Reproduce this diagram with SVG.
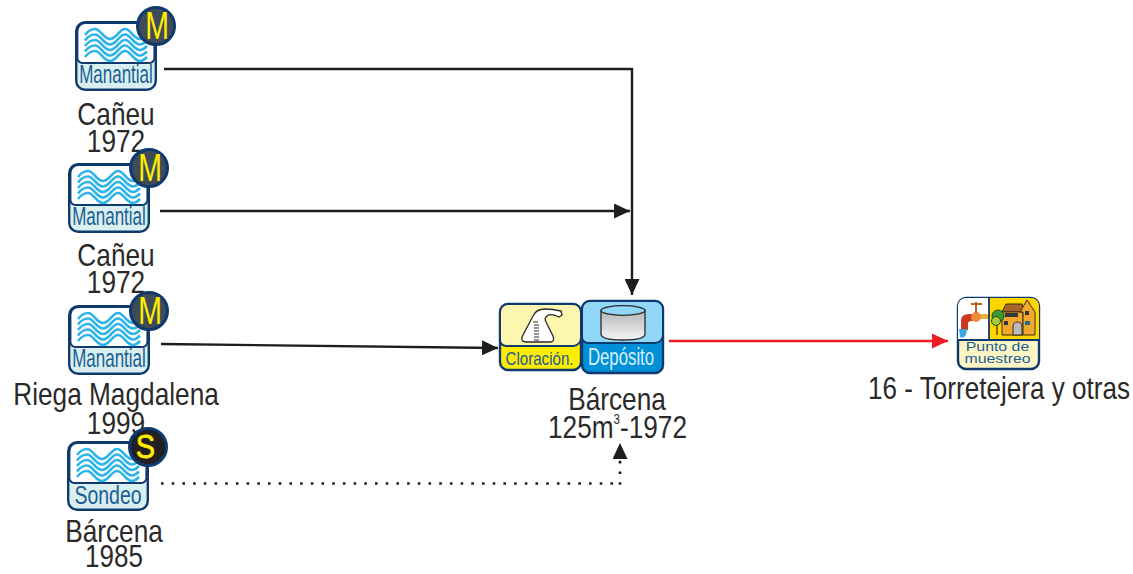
<svg xmlns="http://www.w3.org/2000/svg" width="1133" height="574" viewBox="0 0 1133 574">
<style>
.lbl{font-family:"Liberation Sans",Arial,sans-serif;font-size:32px;fill:#2b2a29;text-anchor:middle}
.tag{font-family:"Liberation Sans",Arial,sans-serif;font-size:25px;fill:#1b5e94;text-anchor:middle}
.bt{font-family:"Liberation Sans",Arial,sans-serif;font-size:38.500px;fill:#ffed00;text-anchor:middle}
.small{font-family:"Liberation Sans",Arial,sans-serif;fill:#1b5e94;text-anchor:middle}
.edge{fill:none;stroke:#1d1d1b;stroke-width:2.400}
.dot{stroke-width:2.600;stroke-dasharray:2.600 8.100}
</style>
<defs>
<marker id="ah" markerUnits="userSpaceOnUse" markerWidth="17" markerHeight="15" refX="16" refY="7.500" orient="auto"><path d="M0 0L16 7.500L0 15Z" fill="#1d1d1b"/></marker>
<marker id="ar" markerUnits="userSpaceOnUse" markerWidth="17" markerHeight="15" refX="16" refY="7.500" orient="auto"><path d="M0 0L16 7.500L0 15Z" fill="#ed1c24"/></marker>
<path id="w" d="M0 1C3-3 7-5 10-5C16-5 18 5 25 5C32 5 34-5 40-5C46-5 48 5 55 5C58 5 60 3 62 1" fill="none" stroke="#2db4ea" stroke-width="2.600"/>
<g id="src">
<rect x="1.200" y="1.200" width="79.600" height="67.600" rx="9" fill="#d9eff0" stroke="#0e3a6e" stroke-width="2.400"/>
<path d="M2.400 37V10a8 8 0 0 1 8-8h61a8 8 0 0 1 8 8V37a5 5 0 0 1-5 5H7.400a5 5 0 0 1-5-5Z" fill="#fff" stroke="#0e3a6e" stroke-width="2"/>
<use href="#w" x="10" y="13"/><use href="#w" x="10" y="18.500"/><use href="#w" x="10" y="24"/><use href="#w" x="10" y="29.500"/><use href="#w" x="10" y="35"/>
</g>
<linearGradient id="cy" x1="0" y1="0" x2="0" y2="1"><stop offset="0" stop-color="#b5b5b5"/><stop offset="1" stop-color="#f4f4f4"/></linearGradient>
</defs>
<g id="connectors">
<path class="edge" d="M164 69H632V295" marker-end="url(#ah)"/>
<path class="edge" d="M160 211H630" marker-end="url(#ah)"/>
<path class="edge" d="M161 344L498 348" marker-end="url(#ah)"/>
<path class="edge" d="M669 341H948" style="stroke:#ed1c24" marker-end="url(#ar)"/>
<path class="edge dot" d="M161 483.500H613"/>
<path class="edge dot" d="M620 484.800V443" marker-end="url(#ah)"/>
</g>
<g id="n1">
<use href="#src" x="75" y="21"/>
<text class="tag" transform="translate(116 83) scale(.68 1)">Manantial</text>
<circle cx="156" cy="26" r="18.500" fill="#3f4c57" stroke="#0e3a6e" stroke-width="3"/>
<text class="bt" transform="translate(157 39.300) scale(.74 1)">M</text>
<text class="lbl" transform="translate(116 125) scale(.82 1)">Cañeu</text>
<text class="lbl" transform="translate(116 152) scale(.82 1)">1972</text>
</g>
<g id="n2">
<use href="#src" x="68" y="163"/>
<text class="tag" transform="translate(109 225) scale(.68 1)">Manantial</text>
<circle cx="149" cy="168" r="18.500" fill="#3f4c57" stroke="#0e3a6e" stroke-width="3"/>
<text class="bt" transform="translate(150 181.300) scale(.74 1)">M</text>
<text class="lbl" transform="translate(116 266) scale(.82 1)">Cañeu</text>
<text class="lbl" transform="translate(116 293) scale(.82 1)">1972</text>
</g>
<g id="n3">
<use href="#src" x="68" y="305"/>
<text class="tag" transform="translate(109 367) scale(.68 1)">Manantial</text>
<circle cx="149" cy="311" r="18.500" fill="#3f4c57" stroke="#0e3a6e" stroke-width="3"/>
<text class="bt" transform="translate(150 324.300) scale(.74 1)">M</text>
<text class="lbl" transform="translate(116 405) scale(.82 1)">Riega Magdalena</text>
<text class="lbl" transform="translate(116 434) scale(.82 1)">1999</text>
</g>
<g id="n4">
<use href="#src" x="67" y="441"/>
<text class="tag" transform="translate(108 504) scale(.78 1)">Sondeo</text>
<circle cx="148" cy="447" r="18.500" fill="#231f20" stroke="#0e3a6e" stroke-width="3"/>
<text class="bt" transform="translate(145.500 457.700) scale(.85 1)" style="font-size:34px;stroke:#ffed00;stroke-width:.8">S</text>
<text class="lbl" transform="translate(114 542) scale(.82 1)">Bárcena</text>
<text class="lbl" style="font-size:31px" transform="translate(114 567.400) scale(.84 1)">1985</text>
</g>
<g id="n5">
<rect x="500" y="304" width="81" height="66" rx="8" fill="#ffed00" stroke="#0e3a6e" stroke-width="2.400"/>
<path d="M500 340V312a8 8 0 0 1 8-8h65a8 8 0 0 1 8 8V338a8 8 0 0 1-8 8H506a6 6 0 0 1-6-6Z" fill="#fdf6ae" stroke="#0e3a6e" stroke-width="2"/>
<path d="M526 342Q521 342 522 337L533 316Q536 309 545 309Q553 309 561 311L562 315L559 317Q550 313 547 316Q544 318 546 322L553 336Q555 342 550 342Z" fill="#fff" stroke="#2b2a29" stroke-width="1.300"/>
<path d="M533 322h5M534 325h5M534 328h5M534 331h5M534 334h5M534 337h5M534 340h5" stroke="#2b2a29" stroke-width="1" fill="none"/>
<text class="small" font-size="18" transform="translate(539.500 365) scale(.84 1)">Cloración.</text>
</g>
<g id="n6">
<rect x="582" y="301" width="81" height="72" rx="8" fill="#0090d7" stroke="#0e3a6e" stroke-width="2.400"/>
<path d="M582 337V309a8 8 0 0 1 8-8h65a8 8 0 0 1 8 8V335a8 8 0 0 1-8 8H588a6 6 0 0 1-6-6Z" fill="#8fd6f7" stroke="#0e3a6e" stroke-width="2"/>
<path d="M601 310.500V334q0 6 22 6t22-6V310.500Z" fill="url(#cy)" stroke="#2b2a29" stroke-width="1.300"/>
<ellipse cx="623" cy="310.500" rx="22" ry="4.800" fill="#8fd6f7" stroke="#2b2a29" stroke-width="1.300"/>
<text class="small" font-size="23" style="fill:#d8f1fb" transform="translate(621 365) scale(.73 1)">Depósito</text>
<text class="lbl" transform="translate(617 410) scale(.82 1)">Bárcena</text>
<text class="lbl" transform="translate(617.500 438) scale(.82 1)">125m<tspan font-size="14" dy="-14">3</tspan><tspan dy="14">-1972</tspan></text>
</g>
<g id="n7">
<rect x="958" y="298" width="81" height="71" rx="8" fill="#fdf6c4" stroke="#0e3a6e" stroke-width="2.400"/>
<path d="M958 340V306a8 8 0 0 1 8-8h23v42Z" fill="#fff"/>
<path d="M989 298h42a8 8 0 0 1 8 8v34h-50Z" fill="#ffd500"/>
<path d="M958 340H1039M989 298V340" stroke="#0e3a6e" stroke-width="1.800" fill="none"/>
<path d="M961 330V321q0-7 8-7h6v7h-4q-3 0-3 3v6Z" fill="#c8391f"/>
<rect x="975" y="314" width="13" height="5" fill="#e8b23a"/>
<circle cx="976" cy="317" r="5" fill="#f08c3a"/>
<path d="M976 302v11M971 304h11" stroke="#b9651c" stroke-width="2" fill="none"/>
<path d="M959 329h8l-1 6q-3 4-6 2Z" fill="#39a9e0"/>
<path d="M1002 312l4-8h16l3 8Z" fill="#a9642a" stroke="#3a2a10"/>
<path d="M1002 312h21v23h-21Z" fill="#f0a92e" stroke="#3a2a10"/>
<path d="M1020 312l7-12l8 12v23h-12V312Z" fill="#f0a92e" stroke="#3a2a10"/>
<path d="M1013 335v-8q0-5 4.500-5t4.500 5v8Z" fill="#bbb" stroke="#3a2a10"/>
<rect x="1005" y="313" width="13" height="4" fill="#33383a"/><rect x="1025" y="311" width="4" height="4" fill="#33383a"/><rect x="1025" y="321" width="5" height="4" fill="#1c6f8f"/><rect x="1004" y="321" width="4" height="4" fill="#33383a"/>
<path d="M997 325v10" stroke="#6b3d12" stroke-width="1.500"/>
<circle cx="998" cy="316" r="6" fill="#3d9b35" stroke="#1f4d1a"/>
<circle cx="996" cy="321" r="4.500" fill="#a8c83c" stroke="#1f4d1a"/>
<text class="small" font-size="13" transform="translate(997.500 350.700) scale(1.220 1)">Punto de</text>
<text class="small" font-size="13" transform="translate(997.500 363) scale(1.220 1)">muestreo</text>
<text class="lbl" transform="translate(999 399) scale(.815 1)">16 - Torretejera y otras</text>
</g>
</svg>
